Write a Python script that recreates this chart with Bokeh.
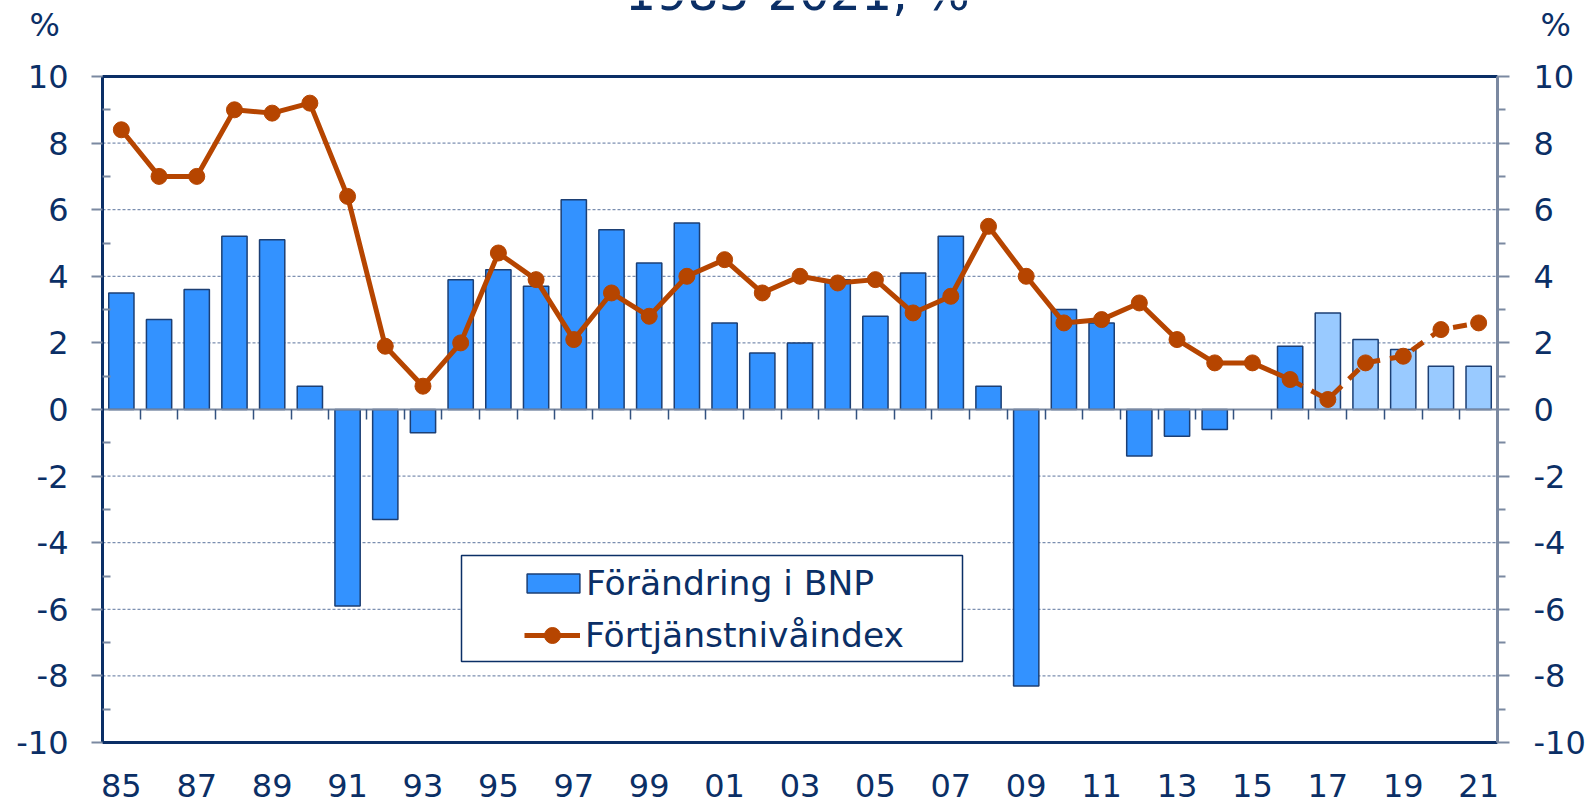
from bokeh.plotting import figure
from bokeh.models import (Range1d, LinearAxis, FixedTicker, Legend, LegendItem, Label,
                          BoxAnnotation, ColumnDataSource, CustomJSTickFormatter)
from bokeh.embed import file_html
from bokeh.resources import INLINE

nan = float("nan")

years = ["85", "86", "87", "88", "89", "90", "91", "92", "93", "94", "95", "96", "97",
         "98", "99", "00", "01", "02", "03", "04", "05", "06", "07", "08", "09", "10",
         "11", "12", "13", "14", "15", "16", "17", "18", "19", "20", "21"]
gdp_change = [3.5, 2.7, 3.6, 5.2, 5.1, 0.7, -5.9, -3.3, -0.7, 3.9, 4.2, 3.7, 6.3,
              5.4, 4.4, 5.6, 2.6, 1.7, 2.0, 3.9, 2.8, 4.1, 5.2, 0.7, -8.3, 3.0,
              2.6, -1.4, -0.8, -0.6, nan, 1.9, 2.9, 2.1, 1.8, 1.3, 1.3]
wage_index = [8.4, 7.0, 7.0, 9.0, 8.9, 9.2, 6.4, 1.9, 0.7, 2.0, 4.7, 3.9, 2.1,
              3.5, 2.8, 4.0, 4.5, 3.5, 4.0, 3.8, 3.9, 2.9, 3.4, 5.5, 4.0, 2.6,
              2.7, 3.2, 2.1, 1.4, 1.4, 0.9, 0.3, 1.4, 1.6, 2.4, 2.6]
forecast_first_year = "17"
dashed_from_year = "16"
y_major = [-10, -8, -6, -4, -2, 0, 2, 4, 6, 8, 10]
y_minor = [-9, -7, -5, -3, -1, 1, 3, 5, 7, 9]
title_text = "1985-2021, %"
unit_text = "%"
legend_labels = ["Förändring i BNP", "Förtjänstnivåindex"]

NAVY = "#0b2f66"
GRAY = "#7b89a1"
BAR_DARK = "#3392ff"
BAR_LIGHT = "#99caff"
BAR_EDGE = "#1c3f74"
LINE_C = "#b64500"
FONT = "DejaVu Sans"
TICK_FS = "32px"

# layout (canvas pixels): the plot box inside the canvas
W, H = 1591, 803
BOX_L, BOX_R, BOX_T, BOX_B = 102, 1497, 76, 742

n = len(years)
idx = list(range(n))
f0 = years.index(forecast_first_year)
d0 = years.index(dashed_from_year)
ymin, ymax = y_major[0], y_major[-1]
xmin, xmax = -0.5, n - 0.5

# ranges chosen so that the data box sits at BOX_* while the frame fills the canvas
ppx = (BOX_R - BOX_L) / (xmax - xmin)
ppy = (BOX_B - BOX_T) / (ymax - ymin)
x_range = Range1d(xmin - BOX_L / ppx, xmax + (W - BOX_R) / ppx)
y_range = Range1d(ymin - (H - BOX_B) / ppy, ymax + BOX_T / ppy)

p = figure(width=W, height=H, output_backend="svg", toolbar_location=None,
           x_range=x_range, y_range=y_range,
           x_axis_location=None, y_axis_location=None,
           min_border=0, outline_line_color=None,
           background_fill_color="white", border_fill_color="white")
p.grid.visible = False

# horizontal grid lines at the major ticks, inside the box
p.segment(x0=[xmin] * len(y_major), x1=[xmax] * len(y_major), y0=y_major, y1=y_major,
          line_color="#3f5c8c", line_dash="3 2", line_width=1, line_alpha=0.85,
          level="underlay")

y_labels = {v: str(v) for v in y_major}


def y_axis(color, tick_out, minor_in, minor_out, standoff, loc):
    ax = LinearAxis(fixed_location=loc, bounds=(ymin, ymax),
                    ticker=FixedTicker(ticks=y_major, minor_ticks=y_minor))
    ax.major_label_overrides = y_labels
    ax.axis_line_color = color
    ax.axis_line_width = 3
    ax.major_tick_out = tick_out
    ax.major_tick_in = 0
    ax.minor_tick_in = minor_in
    ax.minor_tick_out = minor_out
    ax.major_tick_line_color = GRAY
    ax.minor_tick_line_color = GRAY
    ax.major_tick_line_width = 2
    ax.minor_tick_line_width = 2
    ax.major_label_standoff = standoff
    ax.major_label_text_font = FONT
    ax.major_label_text_font_size = TICK_FS
    ax.major_label_text_color = NAVY
    return ax


p.add_layout(y_axis(NAVY, 11, 8, 0, 23, xmin), "left")
p.add_layout(y_axis(GRAY, 12, 0, 8, 24, xmax), "right")

# bottom axis with year labels
ba = LinearAxis(fixed_location=ymin, bounds=(xmin, xmax),
                ticker=FixedTicker(ticks=idx[0::2], minor_ticks=[]))
ba.major_label_overrides = {i: years[i] for i in idx[0::2]}
ba.axis_line_color = NAVY
ba.axis_line_width = 3
ba.major_tick_out = 0
ba.major_tick_in = 0
ba.minor_tick_out = 0
ba.minor_tick_in = 0
ba.major_label_standoff = 31
ba.major_label_text_font = FONT
ba.major_label_text_font_size = TICK_FS
ba.major_label_text_color = NAVY
p.add_layout(ba, "below")

# top border
ta = LinearAxis(fixed_location=ymax, bounds=(xmin, xmax),
                ticker=FixedTicker(ticks=[], minor_ticks=[]))
ta.axis_line_color = NAVY
ta.axis_line_width = 3
ta.major_tick_out = 0
ta.major_tick_in = 0
ta.minor_tick_out = 0
ta.minor_tick_in = 0
p.add_layout(ta, "above")

# zero line with category boundary ticks
za = LinearAxis(fixed_location=0, bounds=(xmin, xmax),
                ticker=FixedTicker(ticks=[i - 0.5 for i in range(1, n)], minor_ticks=[]),
                formatter=CustomJSTickFormatter(code="return ''"))
za.axis_line_color = GRAY
za.axis_line_width = 2
za.major_tick_in = 10
za.major_tick_out = 0
za.minor_tick_in = 0
za.minor_tick_out = 0
za.major_tick_line_color = "#33527f"
za.major_tick_line_width = 1.5
p.add_layout(za, "above")

# bars
src_act = ColumnDataSource(dict(x=idx[:f0], top=gdp_change[:f0]))
src_fc = ColumnDataSource(dict(x=idx[f0:], top=gdp_change[f0:]))
bar_r = p.vbar(x="x", top="top", bottom=0, width=0.67, source=src_act,
               fill_color=BAR_DARK, line_color=BAR_EDGE, line_width=1.5)
p.vbar(x="x", top="top", bottom=0, width=0.67, source=src_fc,
       fill_color=BAR_LIGHT, line_color=BAR_EDGE, line_width=1.5)

# line
line_r = p.line(idx[:d0 + 1], wage_index[:d0 + 1], line_color=LINE_C, line_width=5,
                line_join="round")
p.line(idx[d0:], wage_index[d0:], line_color=LINE_C, line_width=5,
       line_dash="14 10", line_join="round")
sc_r = p.scatter(idx, wage_index, marker="circle", size=16, fill_color=LINE_C,
                 line_color=LINE_C)

# legend box (screen units, y measured upward from the canvas bottom)
box = BoxAnnotation(left=461, right=962, top=H - 555, bottom=H - 661,
                    left_units="screen", right_units="screen",
                    top_units="screen", bottom_units="screen",
                    fill_color="white", fill_alpha=1.0,
                    line_color=NAVY, line_width=1.5, line_alpha=1.0)
p.add_layout(box)

common = dict(orientation="vertical", border_line_alpha=0, background_fill_alpha=0,
              padding=0, margin=0, spacing=0, label_text_font=FONT,
              label_text_font_size="34.5px", label_text_color=NAVY,
              label_text_baseline="middle")
leg_a = Legend(items=[LegendItem(label=legend_labels[0], renderers=[bar_r])],
               location=(520, H - 603), glyph_width=66, glyph_height=24,
               label_standoff=0, **common)
leg_b = Legend(items=[LegendItem(label=legend_labels[1], renderers=[line_r, sc_r])],
               location=(524, H - 655), glyph_width=56, glyph_height=40,
               label_standoff=5, **common)
p.add_layout(leg_a, "center")
p.add_layout(leg_b, "center")

# title sliver and unit marks
p.add_layout(Label(x=797, y=H + 7, x_units="screen", y_units="screen",
                   text=title_text, text_align="center", text_baseline="middle",
                   text_font=FONT, text_font_size="49px", text_color=NAVY))
p.add_layout(Label(x=29, y=H - 24, x_units="screen", y_units="screen", text=unit_text,
                   text_align="left", text_baseline="middle",
                   text_font=FONT, text_font_size="32px", text_color=NAVY))
p.add_layout(Label(x=1540, y=H - 24, x_units="screen", y_units="screen", text=unit_text,
                   text_align="left", text_baseline="middle",
                   text_font=FONT, text_font_size="32px", text_color=NAVY))

open("out.html", "w").write(file_html(p, INLINE))
